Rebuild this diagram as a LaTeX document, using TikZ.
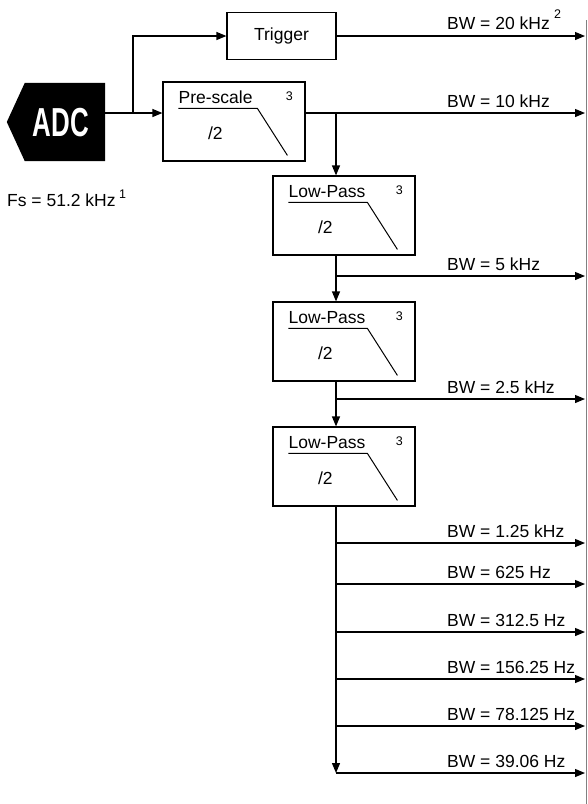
\documentclass[tikz,border=0pt]{standalone}
\usepackage{fontspec}
\setmainfont{Liberation Sans}
\newfontfamily\adcfont{Liberation Sans}[FakeStretch=0.64]
\usetikzlibrary{arrows.meta, calc}

\tikzset{
  wire/.style={line width=1.2pt},
  arr/.style={wire, -{Triangle[length=10pt,width=8pt]}},
  blk/.style={draw, line width=1.2pt, minimum width=142pt, minimum height=79pt, inner sep=0pt,
              font=\fontsize{17.5}{20}\selectfont},
  lbl/.style={font=\fontsize{17.5}{20}\selectfont, inner sep=0pt},
  supnum/.style={font=\fontsize{12.5}{14}\selectfont, inner sep=0pt}
}

\begin{document}
\begin{tikzpicture}[x=1pt,y=-1pt]
\useasboundingbox (0,0) rectangle (587,804);

% ADC
\node[minimum width=80pt, minimum height=78pt, inner sep=0pt] (adc) at (65,122) {};
\fill (adc.north west) -- (adc.north east) -- (adc.south east) -- (adc.south west) -- ($(adc.west)+(-18,0)$) -- cycle;
\node[font=\adcfont\bfseries\fontsize{40.5}{42}\selectfont, text=white, inner sep=0pt] (adct) at (61,122.5) {ADC};
\node[lbl, anchor=base west] (fs) at (7,206) {Fs = 51.2 kHz};
\node[supnum, anchor=base west] (fsn) at (119,198) {1};

% blocks
\node[blk, minimum width=109pt, minimum height=47pt] (trig) at (281.5,36) {Trigger};
\node[blk] (pre) at (234,121.5) {};
\node[blk] (lp1) at (344,215.5) {};
\node[blk] (lp2) at (344,341.5) {};
\node[blk] (lp3) at (344,466.5) {};
\foreach \b/\t in {pre/Pre-scale, lp1/Low-Pass, lp2/Low-Pass, lp3/Low-Pass}{
  \node[lbl, anchor=base west] (\b-t) at ($(\b.north west)+(16,22)$) {\t};
  \draw[line width=1pt] ($(\b.north west)+(16,27)$) -- ++(79,0) -- ++(30,47);
  \node[lbl] (\b-d) at ($(\b.north west)+(53,52)$) {/2};
  \node[supnum] (\b-n) at ($(\b.north west)+(127,15)$) {3};
}

% output bus
\coordinate (busTop) at (586,20);
\coordinate (busBot) at (586,804);
\coordinate (bus) at (585,0);
\draw[gray, line width=0.8pt] (busTop) -- (busBot);

% ADC to trigger and pre-scale
\coordinate (j0) at (133,113);
\draw[wire] (adc.east |- j0) -- (j0);
\draw[arr] (j0) -- (pre.west |- j0);
\draw[arr] (j0) |- (trig.west);
\draw[arr] (trig.east) -- (trig.east -| bus);
\node[lbl, anchor=base west] (bw0) at (447,29) {BW = 20 kHz};
\node[supnum, anchor=base west] (bw0n) at (554,18) {2};

% trunk
\coordinate (j1) at (336,113);
\draw[arr] (pre.east |- j1) -- (j1 -| bus);
\node[lbl, anchor=base west] (bw1) at (447,107) {BW = 10 kHz};
\draw[arr] (j1) -- (j1 |- lp1.north);
\draw[arr] (j1 |- lp1.south) -- (j1 |- lp2.north);
\draw[arr] (j1 |- lp2.south) -- (j1 |- lp3.north);
\coordinate (tEnd) at (336,773);
\draw[arr] (j1 |- lp3.south) -- (tEnd);

\foreach \y/\t [count=\i] in {276/5 kHz, 399/2.5 kHz, 543/1.25 kHz, 584/625 Hz, 632/312.5 Hz, 679/156.25 Hz, 726/78.125 Hz, 773/39.06 Hz}{
  \coordinate (o\i) at (336,\y);
  \draw[arr] (o\i) -- (o\i -| bus);
  \node[lbl, anchor=base west] (bw\i x) at ($(o\i)+(111,-6)$) {BW = \t};
}
\end{tikzpicture}
\end{document}
